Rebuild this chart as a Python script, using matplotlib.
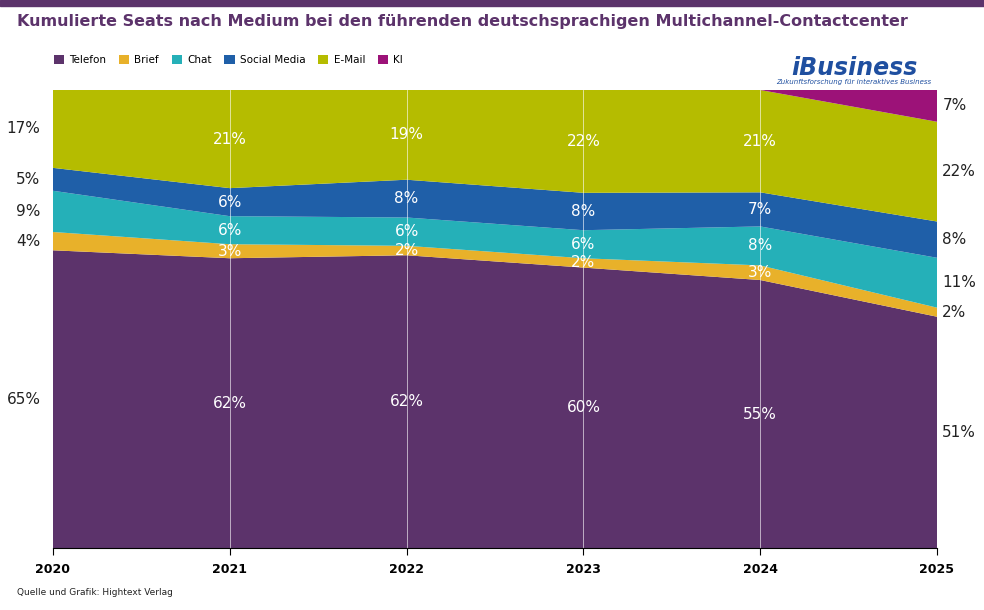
import matplotlib
matplotlib.use("Agg")
import matplotlib.pyplot as plt
import numpy as np

years = [2020, 2021, 2022, 2023, 2024, 2025]
series = ["Telefon", "Brief", "Chat", "Social Media", "E-Mail", "KI"]
telefon = [65, 62, 62, 60, 55, 51]
brief = [4, 3, 2, 2, 3, 2]
chat = [9, 6, 6, 6, 8, 11]
social = [5, 6, 8, 8, 7, 8]
email = [17, 21, 19, 22, 21, 22]
ki = [0, 0, 0, 0, 0, 7]
colors = ["#5c336b", "#e8b12a", "#25b0b8", "#1f5fa8", "#b5bc00", "#9c1278"]

data = np.array([telefon, brief, chat, social, email, ki], dtype=float)
share = data / data.sum(axis=0) * 100

fig = plt.figure(figsize=(9.84, 6.10), dpi=100)
fig.patches.append(plt.Rectangle((0, 0.99), 1, 0.01, transform=fig.transFigure, color="#5c336b"))
fig.text(0.017, 0.965, "Kumulierte Seats nach Medium bei den führenden deutschsprachigen Multichannel-Contactcenter",
         fontsize=11.5, fontweight="bold", color="#5c336b", va="center")
ax = fig.add_axes([53/984, 1-548/610, (937-53)/984, (548-90)/610])
ax.stackplot(years, share, colors=colors, labels=series, linewidth=0)
for x in years[1:-1]:
    ax.axvline(x, color="white", lw=0.6, alpha=0.7)
ax.set_xlim(2020, 2025)
ax.set_ylim(0, 100)
ax.set_yticks([])
for s in ["top", "right", "left"]:
    ax.spines[s].set_visible(False)
ax.spines["bottom"].set_color("black")
ax.set_xticks(years)
ax.set_xticklabels([str(y) for y in years], fontweight="bold", fontsize=9)
ax.tick_params(axis="x", length=5, pad=6)

cum = np.cumsum(share, axis=0)
for j, yr in enumerate(years):
    for i in range(len(series)):
        if data[i, j] == 0:
            continue
        mid = cum[i, j] - share[i, j] / 2
        txt = f"{int(data[i, j])}%"
        if j == 0:
            ax.text(yr - 0.07, mid, txt, ha="right", va="center", fontsize=11, color="#222222", clip_on=False)
        elif j == len(years) - 1:
            ax.text(yr + 0.03, mid, txt, ha="left", va="center", fontsize=11, color="#222222", clip_on=False)
        else:
            ax.text(yr, mid, txt, ha="center", va="center", fontsize=11, color="white")

handles, labels = ax.get_legend_handles_labels()
fig.legend(handles, labels, loc="upper left", bbox_to_anchor=(0.045, 0.925), ncol=6, frameon=False,
           fontsize=7.5, handlelength=1.0, handleheight=1.0, columnspacing=1.2, handletextpad=0.5)

fig.text(0.868, 0.888, "iBusiness", fontsize=17, fontweight="bold", style="italic", color="#1f4fa0", ha="center", va="center")
fig.text(0.868, 0.866, "Zukunftsforschung für interaktives Business", fontsize=5, color="#1f4fa0", ha="center", va="center", style="italic")
fig.text(0.017, 0.025, "Quelle und Grafik: Hightext Verlag", fontsize=6.5, color="#222222")
fig.savefig("out.png", dpi=100, facecolor="white")
